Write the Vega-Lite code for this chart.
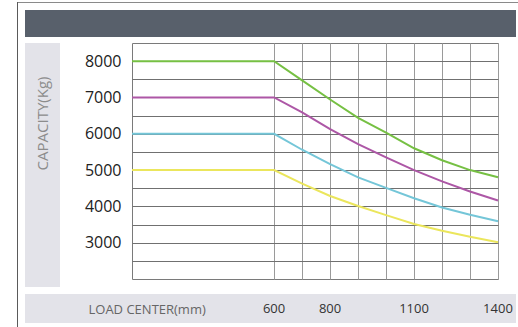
{
  "$schema": "https://vega.github.io/schema/vega-lite/v6.json",
  "padding": {"left": 17, "top": 2, "right": 0, "bottom": 0},
  "background": "white",
  "config": {"view": {"stroke": null}, "font": "Open Sans"},
  "spacing": 0,
  "bounds": "full",
  "hconcat": [
    {"width": 1, "height": 325, "view": {"fill": "#5a5a5a", "stroke": null}, "data": {"values": []}, "mark": "rect"},
    {
      "spacing": 7,
      "bounds": "full",
      "vconcat": [
        {"width": 500, "height": 1, "view": {"fill": "#8a8a8a", "stroke": null}, "data": {"values": []}, "mark": "rect"},
        {
          "spacing": 0,
          "bounds": "full",
          "hconcat": [
            {"width": 7, "height": 1, "view": {"fill": "white", "stroke": null}, "data": {"values": []}, "mark": "rect"},
            {
              "spacing": 7,
              "bounds": "full",
              "vconcat": [
                {
                  "spacing": 5,
                  "bounds": "full",
                  "vconcat": [
                    {"width": 491, "height": 27, "view": {"fill": "#58606b", "stroke": null}, "data": {"values": []}, "mark": "rect"},
                    {
                      "spacing": 72,
                      "bounds": "flush",
                      "hconcat": [
                        {"width": 35, "height": 244, "view": {"fill": "#e3e3e9", "stroke": null}, "data": {"values": []}, "mark": "rect"},
                        {
                          "width": 366,
                          "height": 236,
                          "view": {"stroke": "#7a7a7a", "fill": "white"},
                          "data": {"values": [
                            {"series": "8000", "load": 92, "capacity": 8000},
                            {"series": "8000", "load": 600, "capacity": 8000},
                            {"series": "8000", "load": 700, "capacity": 7470},
                            {"series": "8000", "load": 800, "capacity": 6945},
                            {"series": "8000", "load": 900, "capacity": 6440},
                            {"series": "8000", "load": 1000, "capacity": 6030},
                            {"series": "8000", "load": 1100, "capacity": 5600},
                            {"series": "8000", "load": 1200, "capacity": 5270},
                            {"series": "8000", "load": 1300, "capacity": 5000},
                            {"series": "8000", "load": 1400, "capacity": 4800},
                            {"series": "7000", "load": 92, "capacity": 7000},
                            {"series": "7000", "load": 600, "capacity": 7000},
                            {"series": "7000", "load": 700, "capacity": 6590},
                            {"series": "7000", "load": 800, "capacity": 6130},
                            {"series": "7000", "load": 900, "capacity": 5715},
                            {"series": "7000", "load": 1000, "capacity": 5350},
                            {"series": "7000", "load": 1100, "capacity": 5000},
                            {"series": "7000", "load": 1200, "capacity": 4690},
                            {"series": "7000", "load": 1300, "capacity": 4410},
                            {"series": "7000", "load": 1400, "capacity": 4160},
                            {"series": "6000", "load": 92, "capacity": 6000},
                            {"series": "6000", "load": 600, "capacity": 6000},
                            {"series": "6000", "load": 700, "capacity": 5560},
                            {"series": "6000", "load": 800, "capacity": 5165},
                            {"series": "6000", "load": 900, "capacity": 4800},
                            {"series": "6000", "load": 1000, "capacity": 4510},
                            {"series": "6000", "load": 1100, "capacity": 4225},
                            {"series": "6000", "load": 1200, "capacity": 3970},
                            {"series": "6000", "load": 1300, "capacity": 3770},
                            {"series": "6000", "load": 1400, "capacity": 3590},
                            {"series": "5000", "load": 92, "capacity": 5000},
                            {"series": "5000", "load": 600, "capacity": 5000},
                            {"series": "5000", "load": 700, "capacity": 4625},
                            {"series": "5000", "load": 800, "capacity": 4285},
                            {"series": "5000", "load": 900, "capacity": 4010},
                            {"series": "5000", "load": 1000, "capacity": 3760},
                            {"series": "5000", "load": 1100, "capacity": 3515},
                            {"series": "5000", "load": 1200, "capacity": 3330},
                            {"series": "5000", "load": 1300, "capacity": 3165},
                            {"series": "5000", "load": 1400, "capacity": 3010}
                          ]},
                          "mark": {"type": "line", "strokeWidth": 2},
                          "encoding": {
                            "x": {
                              "field": "load", "type": "quantitative",
                              "scale": {"domain": [92, 1400], "nice": false, "zero": false},
                              "axis": {"values": [600, 700, 800, 900, 1000, 1100, 1200, 1300, 1400], "grid": true, "gridColor": "#9a9a9a", "gridOpacity": 1, "labels": false, "ticks": false, "domain": false, "title": null}
                            },
                            "y": {
                              "field": "capacity", "type": "quantitative",
                              "scale": {"domain": [2000, 8500], "nice": false, "zero": false},
                              "axis": {
                                "values": [2500, 3000, 3500, 4000, 4500, 5000, 5500, 6000, 6500, 7000, 7500, 8000],
                                "grid": true, "gridColor": "#707070", "gridOpacity": 1,
                                "ticks": false, "domain": false, "format": "d",
                                "labelExpr": "datum.value % 1000 === 0 ? datum.label : ''",
                                "labelFontSize": 16, "labelColor": "#222222", "labelPadding": 11, "labelFont": "Open Sans",
                                "title": "CAPACITY(Kg)", "titleX": -89.5, "titleY": 80, "titleAngle": 270,
                                "titleAlign": "center", "titleBaseline": "middle", "titleFontSize": 15,
                                "titleFontWeight": "normal", "titleColor": "#8c8c8c", "titleFont": "Open Sans"
                              }
                            },
                            "color": {
                              "field": "series", "type": "nominal",
                              "scale": {"domain": ["8000", "7000", "6000", "5000"], "range": ["#76c043", "#ad57a6", "#74c6d8", "#ebe65c"]},
                              "legend": null
                            }
                          }
                        }
                      ]
                    }
                  ]
                },
                {
                  "width": 491,
                  "height": 29,
                  "view": {"fill": "#e3e3e9", "stroke": null},
                  "data": {"values": [{"load": 600}, {"load": 800}, {"load": 1100}, {"load": 1400}]},
                  "mark": {"type": "text", "fontSize": 13, "color": "#333333", "font": "Open Sans"},
                  "encoding": {
                    "x": {
                      "field": "load", "type": "quantitative",
                      "scale": {"domain": [-290.2, 1464.5], "nice": false, "zero": false},
                      "axis": {"orient": "top", "labels": false, "ticks": false, "domain": false, "grid": false,
                        "title": "LOAD CENTER(mm)", "titleX": 63, "titleY": 15, "titleAlign": "left", "titleBaseline": "middle",
                        "titleFontSize": 13, "titleFontWeight": "normal", "titleColor": "#666666", "titleFont": "Open Sans"}
                    },
                    "text": {"field": "load", "type": "quantitative", "format": "d"}
                  }
                }
              ]
            }
          ]
        }
      ]
    }
  ]
}
